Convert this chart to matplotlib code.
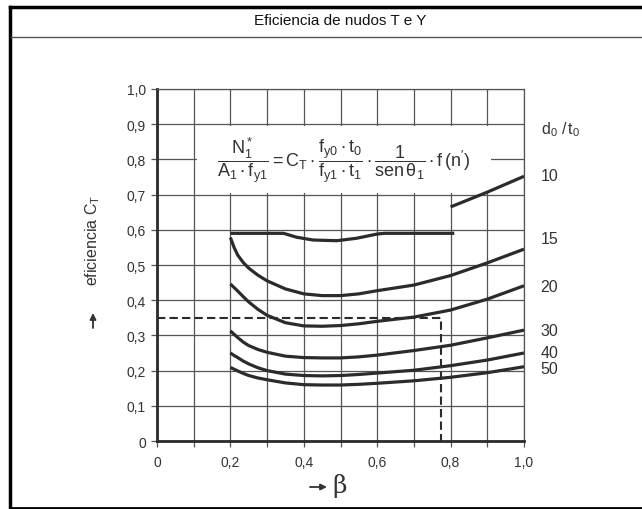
#!/usr/bin/env python3
"""
Eficiencia de nudos T e Y - C_T versus beta for several d0/t0 ratios.
"""

import matplotlib
matplotlib.use("Agg")
import matplotlib.pyplot as plt
from matplotlib.patches import Rectangle
from matplotlib.lines import Line2D

plt.rcParams["font.family"] = ["Liberation Sans", "DejaVu Sans"]
plt.rcParams["mathtext.fontset"] = "custom"
plt.rcParams["mathtext.rm"] = "Liberation Sans"
plt.rcParams["mathtext.it"] = "Liberation Sans"
plt.rcParams["mathtext.default"] = "regular"

# data
beta = [0.2, 0.21, 0.22, 0.235, 0.25, 0.275, 0.3, 0.35, 0.4, 0.45, 0.5,
        0.55, 0.6, 0.7, 0.8, 0.9, 1.0]
ct_15 = [0.578, 0.550, 0.528, 0.507, 0.491, 0.471, 0.455, 0.432, 0.418, 0.413,
         0.413, 0.418, 0.427, 0.443, 0.470, 0.506, 0.545]
ct_20 = [0.446, 0.436, 0.426, 0.410, 0.395, 0.374, 0.357, 0.336, 0.327, 0.326,
         0.328, 0.333, 0.340, 0.352, 0.372, 0.403, 0.441]
ct_30 = [0.313, 0.303, 0.294, 0.281, 0.271, 0.260, 0.252, 0.241, 0.237, 0.236,
         0.236, 0.239, 0.244, 0.257, 0.272, 0.293, 0.315]
ct_40 = [0.250, 0.243, 0.237, 0.227, 0.219, 0.208, 0.200, 0.190, 0.186, 0.185,
         0.186, 0.189, 0.193, 0.201, 0.214, 0.230, 0.250]
ct_50 = [0.209, 0.204, 0.199, 0.192, 0.186, 0.179, 0.174, 0.165, 0.160, 0.159,
         0.159, 0.161, 0.164, 0.171, 0.181, 0.194, 0.211]

beta_lim = [0.2, 0.345, 0.38, 0.425, 0.49, 0.544, 0.6, 0.62, 0.81]
ct_lim = [0.59, 0.59, 0.579, 0.571, 0.569, 0.576, 0.588, 0.59, 0.59]

beta_10 = [0.8, 0.9, 1.0]
ct_10 = [0.665, 0.707, 0.752]

example_beta = [0.0, 0.775, 0.775]
example_ct = [0.35, 0.35, 0.0]

ratio_labels = ["10", "15", "20", "30", "40", "50"]
ratio_label_y = [0.753, 0.574, 0.438, 0.313, 0.250, 0.205]

x_ticks = [0.0, 0.2, 0.4, 0.6, 0.8, 1.0]
x_ticklabels = ["0", "0,2", "0,4", "0,6", "0,8", "1,0"]
x_minor = [0.1, 0.3, 0.5, 0.7, 0.9]
y_ticks = [0.0, 0.1, 0.2, 0.3, 0.4, 0.5, 0.6, 0.7, 0.8, 0.9, 1.0]
y_ticklabels = ["0", "0,1", "0,2", "0,3", "0,4", "0,5", "0,6", "0,7", "0,8", "0,9", "1,0"]

INK = "#2b2b2b"
GRID = "#555555"
TXT = "#333333"


def main():
    fig = plt.figure(figsize=(6.42, 5.10), dpi=100)
    ax = fig.add_axes([157 / 642, 1 - 442 / 510, 367 / 642, 352 / 510])

    ax.set_xlim(0, 1.0)
    ax.set_ylim(0, 1.0)
    ax.set_xticks(x_ticks)
    ax.set_xticklabels(x_ticklabels)
    ax.set_xticks(x_minor, minor=True)
    ax.set_yticks(y_ticks)
    ax.set_yticklabels(y_ticklabels)
    ax.grid(True, which="both", color=GRID, lw=0.9, zorder=0)
    ax.set_axisbelow(True)
    ax.tick_params(which="both", direction="out", length=4, width=0.9,
                   color=GRID, labelcolor=TXT, labelsize=10, pad=4)
    ax.tick_params(axis="x", pad=6)

    for side in ("left", "bottom"):
        ax.spines[side].set_linewidth(2.0)
        ax.spines[side].set_color(INK)
    for side in ("top", "right"):
        ax.spines[side].set_linewidth(0.9)
        ax.spines[side].set_color(GRID)

    # white patch behind the formula hides the grid there
    ax.add_patch(Rectangle((0.11, 0.705), 0.80, 0.19, facecolor="white",
                           edgecolor="none", zorder=1))

    lw = 2.3
    for ct in (ct_15, ct_20, ct_30, ct_40, ct_50):
        ax.plot(beta, ct, color=INK, lw=lw, solid_capstyle="butt",
                solid_joinstyle="round", zorder=3)
    ax.plot(beta_lim, ct_lim, color=INK, lw=lw, solid_capstyle="butt",
            solid_joinstyle="round", zorder=3)
    ax.plot(beta_10, ct_10, color=INK, lw=lw, solid_capstyle="butt", zorder=3)
    ax.plot(example_beta, example_ct, color=INK, lw=1.5, ls=(0, (4, 2)), zorder=3)

    ax.text(0.51, 0.80,
            r"$\dfrac{N_1^*}{A_1 \cdot f_{y1}} = C_T \cdot "
            r"\dfrac{f_{y0} \cdot t_0}{f_{y1} \cdot t_1} \cdot "
            r"\dfrac{1}{sen\,\theta_1} \cdot f\,(n^{\prime})$",
            ha="center", va="center", fontsize=13, color=TXT, zorder=4)

    for lab, y in zip(ratio_labels, ratio_label_y):
        ax.text(1.045, y, lab, ha="left", va="center", fontsize=11.5,
                color=TXT, clip_on=False)
    ax.text(1.045, 0.886, r"$d_0\ /\,t_0$", ha="left", va="center",
            fontsize=11.5, color=TXT, clip_on=False)

    # axis labels
    fig.text(93 / 642, 1 - 240 / 510, r"eficiencia $C_T$", rotation=90,
             ha="center", va="center", fontsize=11.5, color=TXT)
    ax.annotate("", xy=(93 / 642, 1 - 314 / 510), xytext=(93 / 642, 1 - 329 / 510),
                xycoords="figure fraction", textcoords="figure fraction",
                arrowprops=dict(arrowstyle="-|>", color=TXT, lw=1.3,
                                mutation_scale=9, shrinkA=0, shrinkB=0))
    ax.annotate("", xy=(327 / 642, 1 - 488 / 510), xytext=(310 / 642, 1 - 488 / 510),
                xycoords="figure fraction", textcoords="figure fraction",
                arrowprops=dict(arrowstyle="-|>", color=TXT, lw=1.3,
                                mutation_scale=9, shrinkA=0, shrinkB=0))
    fig.text(340 / 642, 1 - 486 / 510, "\u03b2", ha="center", va="center",
             fontsize=18, color=TXT, family="DejaVu Serif")

    # page frame and title bar
    fig.add_artist(Line2D([10 / 642, 1.0], [1 - 8 / 510] * 2, color="black", lw=2.5))
    fig.add_artist(Line2D([10 / 642] * 2, [1 - 8 / 510, 1 - 509 / 510], color="black", lw=2.5))
    fig.add_artist(Line2D([10 / 642, 1.0], [1 - 509 / 510] * 2, color="black", lw=2))
    fig.add_artist(Line2D([11 / 642, 1.0], [1 - 38 / 510] * 2, color="#555555", lw=1))
    fig.text(340 / 642, 1 - 21 / 510, "Eficiencia de nudos T e Y", ha="center",
             va="center", fontsize=11, color="#111111")

    plt.savefig("out.png", dpi=100)


if __name__ == "__main__":
    main()
